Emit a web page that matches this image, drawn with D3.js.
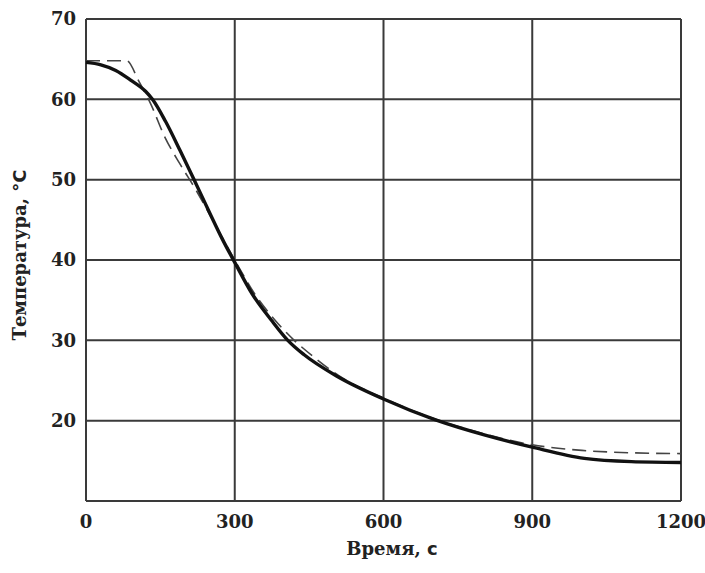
<!DOCTYPE html>
<html>
<head>
<meta charset="utf-8">
<script src="https://cdn.jsdelivr.net/npm/d3@7"></script>
<style>
  body { margin: 0; background: #fff; }
  svg { display: block; }
</style>
</head>
<body>
<svg id="chart" width="705" height="573"></svg>
<script>
// data
const xTicks = [0, 300, 600, 900, 1200];
const yTicks = [20, 30, 40, 50, 60, 70];
const yGrid = [10, 20, 30, 40, 50, 60, 70];

const measuredT = [0, 30, 60, 90, 120, 134, 160, 190, 218, 250, 275, 300, 335, 374, 407, 440, 507, 600, 705, 805, 900, 1005, 1100, 1200];
const measuredC = [64.6, 64.3, 63.6, 62.4, 61.0, 60.0, 57.3, 53.6, 50.0, 45.8, 42.6, 39.7, 35.8, 32.5, 30.0, 28.2, 25.5, 22.7, 20.1, 18.2, 16.7, 15.3, 14.9, 14.8];

const modelT = [0, 82, 107, 130, 159, 191, 220, 250, 300, 340, 380, 420, 460, 510, 600, 700, 800, 900, 1000, 1100, 1200];
const modelC = [64.8, 64.8, 62.2, 59.5, 55.3, 51.8, 48.9, 45.6, 40.0, 35.8, 32.6, 30.0, 27.9, 25.6, 22.8, 20.3, 18.4, 17.0, 16.3, 16.0, 15.9];

const M = { left: 86, right: 681, top: 19, bottom: 501 };
const GRID = '#3a3a3a';

const svg = d3.select('#chart');
const x = d3.scaleLinear().domain([0, 1200]).range([M.left, M.right]);
const y = d3.scaleLinear().domain([10, 70]).range([M.bottom, M.top]);

const g = svg.append('g');

// grid + frame
g.selectAll('line.vg').data(xTicks).join('line')
  .attr('x1', d => x(d)).attr('x2', d => x(d))
  .attr('y1', M.top).attr('y2', M.bottom)
  .attr('stroke', GRID).attr('stroke-width', 2);
g.selectAll('line.hg').data(yGrid).join('line')
  .attr('x1', M.left).attr('x2', M.right)
  .attr('y1', d => y(d)).attr('y2', d => y(d))
  .attr('stroke', GRID).attr('stroke-width', 2);

const tickFont = (sel) => sel
  .attr('font-family', '"DejaVu Serif", serif')
  .attr('font-weight', 'bold').attr('font-size', '18px').attr('fill', '#222');

g.selectAll('text.xt').data(xTicks).join('text')
  .attr('x', d => x(d)).attr('y', 528).attr('text-anchor', 'middle')
  .call(tickFont).text(d => d);
g.selectAll('text.yt').data(yTicks).join('text')
  .attr('x', 76).attr('y', d => y(d)).attr('dy', '0.35em').attr('text-anchor', 'end')
  .call(tickFont).text(d => d);

// curves
const line = d3.line().curve(d3.curveMonotoneX)
  .x(d => x(d[0])).y(d => y(d[1]));

g.append('path')
  .datum(d3.zip(modelT, modelC))
  .attr('d', line)
  .attr('fill', 'none').attr('stroke', '#444').attr('stroke-width', 1.6)
  .attr('stroke-dasharray', '14,7');

g.append('path')
  .datum(d3.zip(measuredT, measuredC))
  .attr('d', line)
  .attr('fill', 'none').attr('stroke', '#111').attr('stroke-width', 3.4)
  .attr('stroke-linejoin', 'round');

// axis titles
const xt = svg.append('text')
  .attr('x', 392).attr('y', 555).attr('text-anchor', 'middle')
  .attr('font-size', '18px').attr('font-weight', 'bold').attr('fill', '#222');
xt.append('tspan').attr('font-family', '"DejaVu Serif", serif').text('Время, ');
xt.append('tspan').attr('font-family', '"DejaVu Sans", sans-serif').text('с');

const yt = svg.append('text')
  .attr('transform', 'translate(26, 255) rotate(-90)').attr('text-anchor', 'middle')
  .attr('font-size', '18px').attr('font-weight', 'bold').attr('fill', '#222');
yt.append('tspan').attr('font-family', '"DejaVu Serif", serif').text('Температура, ');
yt.append('tspan').attr('font-family', '"DejaVu Sans", sans-serif').text('°C');
</script>
</body>
</html>
